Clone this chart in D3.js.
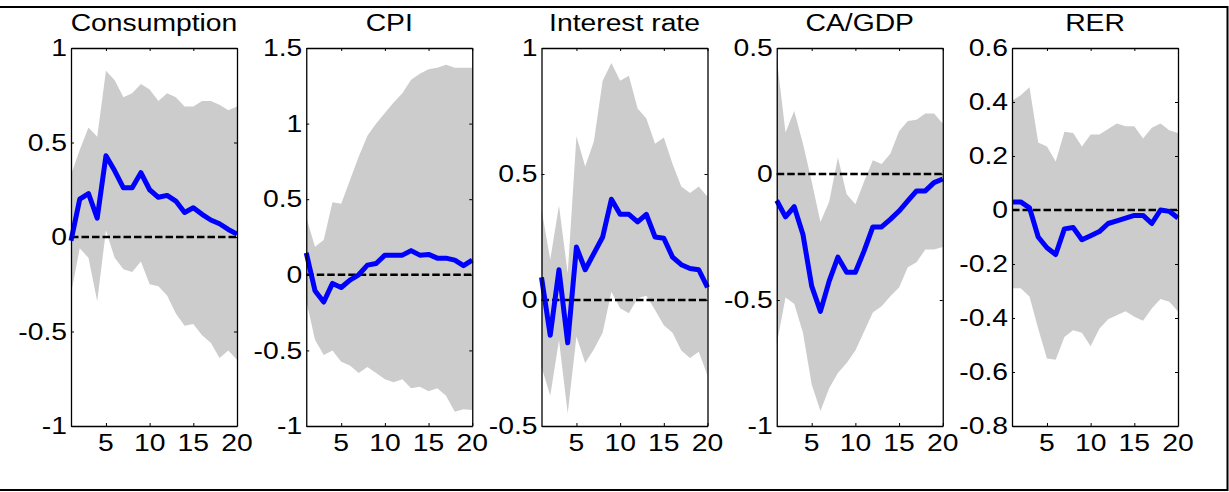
<!DOCTYPE html>
<html>
<head>
<meta charset="utf-8">
<script src="https://cdn.jsdelivr.net/npm/d3@7"></script>
<style>
  html, body { margin: 0; padding: 0; background: #fff; }
  svg { display: block; }
  text { font-family: "Liberation Sans", Arial, sans-serif; fill: #000; }
</style>
</head>
<body>
<script>
// Impulse responses over a 20-period horizon: median path with error band
const horizon = d3.range(1, 21);
const titles = ["Consumption", "CPI", "Interest rate", "CA/GDP", "RER"];

const consMedian = [-0.02, 0.20, 0.23, 0.10, 0.43, 0.35, 0.26, 0.26, 0.34, 0.25, 0.21, 0.22, 0.19, 0.13, 0.155, 0.12, 0.09, 0.07, 0.04, 0.015];
const consUpper  = [0.33, 0.46, 0.58, 0.53, 0.88, 0.83, 0.74, 0.76, 0.81, 0.78, 0.72, 0.76, 0.74, 0.69, 0.69, 0.72, 0.72, 0.70, 0.67, 0.69];
const consLower  = [-0.30, -0.06, -0.11, -0.34, 0.035, -0.11, -0.17, -0.185, -0.13, -0.25, -0.26, -0.31, -0.405, -0.47, -0.46, -0.52, -0.56, -0.64, -0.60, -0.65];

const cpiMedian = [0.145, -0.105, -0.18, -0.057, -0.084, -0.035, 0.0, 0.064, 0.075, 0.13, 0.13, 0.13, 0.16, 0.13, 0.135, 0.11, 0.11, 0.097, 0.06, 0.097];
const cpiUpper  = [0.38, 0.185, 0.23, 0.48, 0.47, 0.625, 0.78, 0.92, 1.0, 1.07, 1.14, 1.2, 1.29, 1.33, 1.36, 1.37, 1.39, 1.37, 1.37, 1.37];
const cpiLower  = [-0.17, -0.43, -0.53, -0.50, -0.575, -0.60, -0.65, -0.61, -0.65, -0.69, -0.71, -0.69, -0.75, -0.74, -0.77, -0.75, -0.80, -0.905, -0.89, -0.895];

const rateMedian = [0.09, -0.14, 0.12, -0.17, 0.21, 0.12, 0.185, 0.25, 0.40, 0.34, 0.34, 0.31, 0.34, 0.25, 0.245, 0.17, 0.14, 0.125, 0.12, 0.05];
const rateUpper  = [0.36, 0.16, 0.375, 0.105, 0.65, 0.53, 0.63, 0.87, 0.94, 0.87, 0.89, 0.76, 0.72, 0.62, 0.645, 0.54, 0.45, 0.425, 0.45, 0.41];
const rateLower  = [-0.265, -0.38, -0.16, -0.45, -0.145, -0.25, -0.195, -0.13, 0.033, -0.033, -0.053, 0.007, 0.017, -0.04, -0.10, -0.13, -0.20, -0.23, -0.205, -0.30];

const caMedian = [-0.105, -0.17, -0.13, -0.24, -0.445, -0.545, -0.425, -0.33, -0.39, -0.39, -0.305, -0.21, -0.21, -0.18, -0.147, -0.107, -0.067, -0.067, -0.034, -0.02];
const caUpper  = [0.46, 0.165, 0.25, 0.12, -0.03, -0.19, -0.11, 0.065, -0.08, -0.12, -0.03, 0.055, 0.04, 0.08, 0.17, 0.21, 0.215, 0.24, 0.24, 0.20];
const caLower  = [-0.675, -0.49, -0.515, -0.63, -0.835, -0.94, -0.85, -0.79, -0.75, -0.70, -0.625, -0.55, -0.525, -0.485, -0.45, -0.37, -0.35, -0.30, -0.30, -0.29];

const rerMedian = [0.03, 0.03, 0.008, -0.10, -0.14, -0.165, -0.07, -0.065, -0.11, -0.095, -0.08, -0.05, -0.04, -0.03, -0.02, -0.02, -0.05, 0.0, -0.005, -0.03];
const rerUpper  = [0.405, 0.425, 0.455, 0.25, 0.235, 0.18, 0.29, 0.285, 0.235, 0.28, 0.28, 0.30, 0.32, 0.31, 0.31, 0.265, 0.305, 0.32, 0.295, 0.285];
const rerLower  = [-0.29, -0.29, -0.32, -0.44, -0.55, -0.555, -0.47, -0.445, -0.455, -0.505, -0.44, -0.405, -0.39, -0.375, -0.395, -0.41, -0.365, -0.33, -0.34, -0.375];

const medians = [consMedian, cpiMedian, rateMedian, caMedian, rerMedian];
const uppers  = [consUpper, cpiUpper, rateUpper, caUpper, rerUpper];
const lowers  = [consLower, cpiLower, rateLower, caLower, rerLower];

const yDomains = [[-1, 1], [-1, 1.5], [-0.5, 1], [-1, 0.5], [-0.8, 0.6]];
const yTicks = [
  [-1, -0.5, 0, 0.5, 1],
  [-1, -0.5, 0, 0.5, 1, 1.5],
  [-0.5, 0, 0.5, 1],
  [-1, -0.5, 0, 0.5],
  [-0.8, -0.6, -0.4, -0.2, 0, 0.2, 0.4, 0.6]
];
const xTicks = [5, 10, 15, 20];

const W = 1229, H = 492;
const panelLeft = 71, panelStep = 235.25, panelW = 166;
const panelTop = 48, panelBottom = 426;
const stretch = 1.23;   // wide-set lettering
const fontSize = 23;

const svg = d3.select("body").append("svg")
  .attr("width", W).attr("height", H);

// outer frame
svg.append("rect")
  .attr("x", -1).attr("y", 7)
  .attr("width", 1228.5).attr("height", 483)
  .attr("fill", "none").attr("stroke", "#000").attr("stroke-width", 2);

function label(g, x, y, txt, anchor, dy) {
  g.append("text")
    .attr("transform", `translate(${x},${y}) scale(${stretch},1)`)
    .attr("text-anchor", anchor)
    .attr("dy", dy || 0)
    .style("font-size", fontSize + "px")
    .text(txt);
}

const fmt = v => (v === 0 ? "0" : String(v));

titles.forEach((title, i) => {
  const x0 = panelLeft + i * panelStep;
  const x = d3.scaleLinear().domain([1, 20]).range([x0, x0 + panelW]);
  const y = d3.scaleLinear().domain(yDomains[i]).range([panelBottom, panelTop]);
  const g = svg.append("g");

  const rows = horizon.map((h, k) => ({ h, m: medians[i][k], u: uppers[i][k], l: lowers[i][k] }));

  // error band
  g.append("path")
    .datum(rows)
    .attr("fill", "#cccccc")
    .attr("stroke", "none")
    .attr("d", d3.area().x(d => x(d.h)).y0(d => y(d.l)).y1(d => y(d.u)));

  // zero reference
  g.append("line")
    .attr("x1", x(1)).attr("x2", x(20))
    .attr("y1", y(0)).attr("y2", y(0))
    .attr("stroke", "#000").attr("stroke-width", 2.6)
    .attr("stroke-dasharray", "7.5,3");

  // median response
  g.append("path")
    .datum(rows)
    .attr("fill", "none")
    .attr("stroke", "#0000ff")
    .attr("stroke-width", 5)
    .attr("stroke-linejoin", "round")
    .attr("d", d3.line().x(d => x(d.h)).y(d => y(d.m)));

  // box with inward ticks on all sides
  const axes = [
    [d3.axisLeft(y).tickValues(yTicks[i]), `translate(${x0},0)`],
    [d3.axisRight(y).tickValues(yTicks[i]), `translate(${x0 + panelW},0)`],
    [d3.axisBottom(x).tickValues(xTicks), `translate(0,${panelBottom})`],
    [d3.axisTop(x).tickValues(xTicks), `translate(0,${panelTop})`]
  ];
  axes.forEach(([ax, tr]) => {
    const a = g.append("g")
      .attr("transform", tr)
      .call(ax.tickSizeInner(-3).tickSizeOuter(0).tickFormat(""));
    a.select(".domain").attr("stroke", "#000").attr("stroke-width", 1.3);
    a.selectAll(".tick line").attr("stroke", "#000").attr("stroke-width", 1);
  });

  // tick labels
  yTicks[i].forEach(v => label(g, x0 - 4, y(v), fmt(v), "end", "0.36em"));
  xTicks.forEach(v => label(g, x(v), panelBottom + 25, String(v), "middle"));

  // panel title
  label(g, x0 + panelW / 2, 31, title, "middle");
});
</script>
</body>
</html>
